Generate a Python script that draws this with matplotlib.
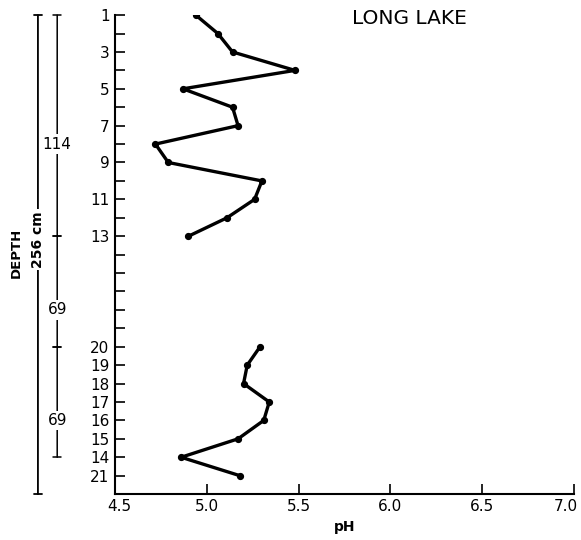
import numpy as np
import matplotlib.pyplot as plt
from matplotlib.transforms import blended_transform_factory, ScaledTranslation

# %% data
# upper core section, samples 1-13
top_samples = [1, 2, 3, 4, 5, 6, 7, 8, 9, 10, 11, 12, 13]
top_ph = [4.94, 5.06, 5.14, 5.48, 4.87, 5.14, 5.17, 4.72, 4.79, 5.30, 5.26, 5.11, 4.90]

# lower section, samples in order down the core
low_samples = [20, 19, 18, 17, 16, 15, 14, 21]
low_ph = [5.29, 5.22, 5.20, 5.34, 5.31, 5.17, 4.86, 5.18]

# y slots: top section at 0..12, five blank ticks, lower section 18..25
top_pos = list(range(0, 13))
low_pos = list(range(18, 26))
n_ticks = 26

tick_labels = [''] * n_ticks
for p, s in zip(top_pos, top_samples):
    if s % 2 == 1:
        tick_labels[p] = str(s)
for p, s in zip(low_pos, low_samples):
    tick_labels[p] = str(s)

# depth brackets (cm) and the slots they span
brackets = [(0, 12, '114'), (12, 18, '69'), (18, 24, '69')]
total_depth = '256 cm'

xticks = [4.5, 5.0, 5.5, 6.0, 6.5, 7.0]

# %% plot
fig = plt.figure(figsize=(5.81, 5.40), dpi=100)
ax = fig.add_axes([0.198, 0.085, 0.79, 0.887])

ax.plot(top_ph, top_pos, '-o', color='black', lw=2.4, ms=4.2)
ax.plot(low_ph, low_pos, '-o', color='black', lw=2.4, ms=4.2)

ax.set_xlim(4.5, 7.0)
ax.set_ylim(26, 0)
ax.set_xticks(xticks)
ax.set_xticklabels(['%.1f' % v for v in xticks])
ax.set_yticks(range(n_ticks))
ax.set_yticklabels(tick_labels)
ax.tick_params(axis='both', direction='in', length=7, width=1.2, labelsize=11)
ax.tick_params(axis='y', pad=4)
ax.spines['top'].set_visible(False)
ax.spines['right'].set_visible(False)
ax.spines['left'].set_linewidth(1.5)
ax.spines['bottom'].set_linewidth(1.5)
ax.set_xlabel('pH', fontsize=10, fontweight='bold', labelpad=4)

# nudge end labels inward like the original
xl = ax.get_xticklabels()
xl[0].set_transform(xl[0].get_transform() + ScaledTranslation(4 / 100, 0, fig.dpi_scale_trans))
xl[-1].set_transform(xl[-1].get_transform() + ScaledTranslation(-8 / 100, 0, fig.dpi_scale_trans))

tr = blended_transform_factory(ax.transAxes, ax.transData)
ax.text(0.516, 0.2, 'LONG LAKE', transform=tr, fontsize=14.5, va='center', ha='left')

# %% depth annotations on the left
x_out = -0.168
x_in = -0.126

ax.annotate('', xy=(x_out, 0), xytext=(x_out, 26), xycoords=tr, textcoords=tr,
            arrowprops=dict(arrowstyle='|-|,widthA=0.3,widthB=0.3', lw=1.3, color='black',
                            shrinkA=0, shrinkB=0), annotation_clip=False)
ax.text(x_out, 12.2, total_depth, transform=tr, rotation=90, ha='center', va='center',
        fontsize=10, fontweight='bold', bbox=dict(fc='white', ec='none', pad=1.5), clip_on=False)
ax.text(-0.216, 12.9, 'DEPTH', transform=tr, rotation=90, ha='center', va='center',
        fontsize=9.5, fontweight='bold', clip_on=False)

for y0, y1, lab in brackets:
    ax.annotate('', xy=(x_in, y0), xytext=(x_in, y1), xycoords=tr, textcoords=tr,
                arrowprops=dict(arrowstyle='|-|,widthA=0.3,widthB=0.3', lw=1.1, color='black',
                                shrinkA=0, shrinkB=0), annotation_clip=False)
    ax.text(x_in, (y0 + y1) / 2 + 1.0, lab, transform=tr, ha='center', va='center',
            fontsize=11, bbox=dict(fc='white', ec='none', pad=1.5), clip_on=False)

fig.savefig('out.png', dpi=100)
